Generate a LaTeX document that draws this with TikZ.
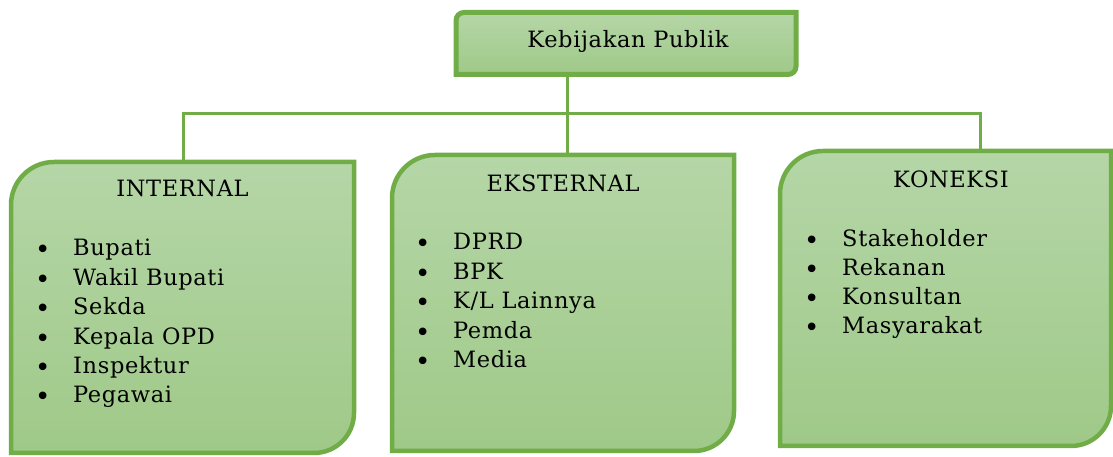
\documentclass[tikz,border=0pt]{standalone}
\usepackage{fontspec}
\setmainfont{DejaVu Serif}[LetterSpace=2.8]
\newfontfamily\bulfont{DejaVu Serif}
\newcommand{\blt}{\makebox[38pt][l]{\raisebox{-3pt}{\bulfont\fontsize{26}{25}\selectfont•}}}
\definecolor{gline}{RGB}{112,173,71}
\definecolor{gtop}{RGB}{181,214,167}
\definecolor{gbot}{RGB}{159,201,136}
\begin{document}
\begin{tikzpicture}[x=1pt,y=1pt,
  boxnode/.style={inner sep=0pt,outer sep=0pt,draw=none,rectangle},
  gfill/.style={draw=gline,line width=4.5pt,top color=gtop,bottom color=gbot},
  conn/.style={draw=gline,line width=3pt},
  txt/.style={inner sep=0pt,font=\fontsize{22.5}{26}\selectfont,text=black},
  item/.style={txt,anchor=base west}]
\useasboundingbox (0,0) rectangle (1113,457);
% top box
\node[boxnode,minimum width=340pt,minimum height=62pt] (kp) at (626,413.5) {};
\shadedraw[gfill,line width=5pt] (kp.south west) -- ([yshift=-8pt]kp.north west) arc[start angle=180,end angle=90,radius=8pt] -- (kp.north east) -- ([yshift=8pt]kp.south east) arc[start angle=0,end angle=-90,radius=8pt] -- cycle;
\node[txt,anchor=base] (kpt) at (628,409) {Kebijakan Publik};
% internal
\node[boxnode,minimum width=343pt,minimum height=291pt] (int) at (182.5,149.5) {};
\shadedraw[gfill] (int.south west) -- ([yshift=-43pt]int.north west) arc[start angle=180,end angle=90,radius=43pt] -- (int.north east) -- ([yshift=40pt]int.south east) arc[start angle=0,end angle=-90,radius=40pt] -- cycle;
\node[txt,anchor=base] (intt) at (182.5,260) {INTERNAL};
\foreach \t [count=\i] in {Bupati,Wakil Bupati,Sekda,Kepala OPD,Inspektur,Pegawai}
  \node[item] (int\i) at (35,{201-(\i-1)*29.4}) {\blt\t};
% eksternal
\node[boxnode,minimum width=342pt,minimum height=296pt] (eks) at (563,154) {};
\shadedraw[gfill] (eks.south west) -- ([yshift=-43pt]eks.north west) arc[start angle=180,end angle=90,radius=43pt] -- (eks.north east) -- ([yshift=40pt]eks.south east) arc[start angle=0,end angle=-90,radius=40pt] -- cycle;
\node[txt,anchor=base] (ekst) at (563,265) {EKSTERNAL};
\foreach \t [count=\i] in {DPRD,BPK,K/L Lainnya,Pemda,Media}
  \node[item] (eks\i) at (415,{207-(\i-1)*29.4}) {\blt\t};
% koneksi
\node[boxnode,minimum width=331pt,minimum height=295pt] (kon) at (945.5,158.5) {};
\shadedraw[gfill] (kon.south west) -- ([yshift=-43pt]kon.north west) arc[start angle=180,end angle=90,radius=43pt] -- (kon.north east) -- ([yshift=40pt]kon.south east) arc[start angle=0,end angle=-90,radius=40pt] -- cycle;
\node[txt,anchor=base] (kont) at (951,269) {KONEKSI};
\foreach \t [count=\i] in {Stakeholder,Rekanan,Konsultan,Masyarakat}
  \node[item] (kon\i) at (804,{210-(\i-1)*29}) {\blt\t};
% connectors
\coordinate (busL) at (183,343);
\coordinate (busM) at (567,343);
\coordinate (busR) at (980,343);
\draw[conn] (kp.south -| busM) -- (eks.north -| busM);
\draw[conn] (int.north -| busL) -- (busL) -- ([xshift=2pt]busR);
\draw[conn] ([yshift=2pt]busR) -- (kon.north -| busR);
\end{tikzpicture}
\end{document}
